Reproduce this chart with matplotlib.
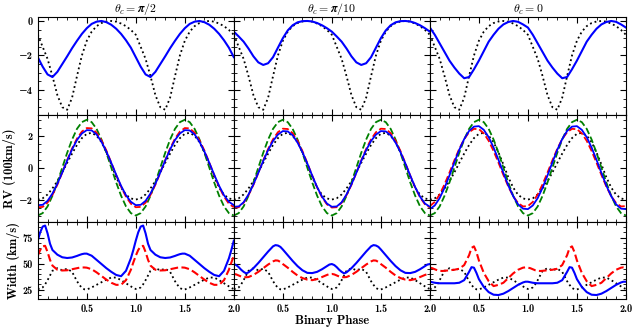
import numpy as np
import matplotlib.pyplot as plt

plt.rcParams['font.family'] = ['cmb10', 'DejaVu Serif']
plt.rcParams['mathtext.fontset'] = 'cm'
plt.rcParams['axes.unicode_minus'] = True
plt.rcParams['axes.formatter.use_mathtext'] = False

titles = [r'$\boldsymbol{\theta_c = \pi/2}$', r'$\boldsymbol{\theta_c = \pi/10}$',
          r'$\boldsymbol{\theta_c = 0}$']

# one orbital period (curves repeat every period)
phase = [0.0, 0.05, 0.1, 0.15, 0.2, 0.25, 0.3, 0.35, 0.4, 0.45, 0.5,
         0.55, 0.6, 0.65, 0.7, 0.75, 0.8, 0.85, 0.9, 0.95, 1.0]
phase_w = [0.0, 0.025, 0.05, 0.075, 0.1, 0.125, 0.15, 0.2, 0.25, 0.3, 0.35,
           0.4, 0.425, 0.45, 0.475, 0.5, 0.55, 0.6, 0.65, 0.7, 0.75, 0.8,
           0.85, 0.9, 0.95, 0.975, 1.0]

# top row: light curve
lc_obs = [-0.8, -1.5, -2.2, -3.2, -4.3, -5.0, -5.15, -4.45, -3.2, -2.0, -1.15,
          -0.62, -0.3, -0.12, -0.03, 0.0, -0.04, -0.15, -0.3, -0.52, -0.8]
lc_model = [
    [-2.1, -2.65, -3.1, -3.25, -2.95, -2.5, -2.05, -1.58, -1.15, -0.75, -0.42,
     -0.17, -0.04, 0.0, -0.07, -0.22, -0.45, -0.75, -1.12, -1.55, -2.1],
    [-0.62, -0.9, -1.2, -1.6, -2.05, -2.4, -2.55, -2.45, -2.1, -1.55, -1.0,
     -0.55, -0.25, -0.08, -0.01, 0.0, -0.03, -0.12, -0.25, -0.42, -0.62],
    [-0.38, -0.8, -1.3, -1.8, -2.3, -2.7, -3.05, -3.32, -3.25, -2.8, -2.3,
     -1.75, -1.2, -0.8, -0.45, -0.2, -0.06, 0.0, -0.05, -0.2, -0.38],
]

# middle row: radial velocity
rv_obs = [-2.0, -1.92, -1.68, -1.3, -0.85, -0.3, 0.3, 0.88, 1.42, 1.85, 2.12,
          2.18, 2.0, 1.6, 0.95, 0.2, -0.6, -1.25, -1.7, -1.93, -2.0]
rv_green = [-3.0, -2.85, -2.43, -1.76, -0.93, 0.0, 0.93, 1.76, 2.43, 2.85, 3.0,
            2.85, 2.43, 1.76, 0.93, 0.0, -0.93, -1.76, -2.43, -2.85, -3.0]
rv_red = [
    [-2.48, -2.46, -2.19, -1.71, -1.07, -0.31, 0.47, 1.2, 1.82, 2.26, 2.48,
     2.46, 2.19, 1.71, 1.07, 0.31, -0.47, -1.2, -1.82, -2.26, -2.48],
    [-2.5, -2.48, -2.2, -1.72, -1.08, -0.33, 0.45, 1.17, 1.78, 2.22, 2.44,
     2.42, 2.16, 1.68, 1.04, 0.28, -0.5, -1.24, -1.86, -2.3, -2.5],
    [-2.41, -2.15, -1.68, -1.04, -0.31, 0.46, 1.18, 1.79, 2.22, 2.43, 2.41,
     2.15, 1.68, 1.04, 0.31, -0.46, -1.18, -1.79, -2.22, -2.43, -2.41],
]
rv_blue = [
    [-2.35, -2.33, -2.08, -1.62, -1.01, -0.3, 0.44, 1.14, 1.73, 2.14, 2.35,
     2.33, 2.08, 1.62, 1.01, 0.3, -0.44, -1.14, -1.73, -2.14, -2.35],
    [-2.45, -2.43, -2.17, -1.68, -1.05, -0.32, 0.42, 1.1, 1.67, 2.07, 2.29,
     2.27, 2.03, 1.57, 0.97, 0.26, -0.5, -1.22, -1.82, -2.25, -2.45],
    [-2.6, -2.37, -1.91, -1.26, -0.49, 0.33, 1.12, 1.79, 2.3, 2.57, 2.6,
     2.37, 1.91, 1.26, 0.49, -0.33, -1.12, -1.79, -2.3, -2.57, -2.6],
]

# bottom row: line width
w_obs = [25.5, 25.8, 27, 30, 34, 38.5, 43, 45.5, 43.5, 45, 42, 33, 29.5, 26.5,
         25.2, 25, 27, 29.5, 32, 34.5, 36.5, 36.5, 34, 31, 28, 26.5, 25.5]
w_red = [
    [57.5, 63, 66.5, 67, 61, 53.5, 48, 44, 43.3, 43.5, 44.5, 45.5, 46, 46.2,
     46.2, 46, 44.5, 41.5, 38, 34.5, 31.5, 29.5, 29.5, 34, 44, 51, 57.5],
    [40, 39.5, 38.5, 37.5, 37, 36.8, 37, 39, 42, 45.5, 49, 52, 53, 52.8,
     51.5, 49.5, 46, 42, 38.5, 36, 34.5, 34, 35, 37, 39, 39.8, 40],
    [46, 45.5, 44.5, 43.5, 43, 42.8, 43, 43.5, 44, 45, 48.5, 58, 65, 66.5,
     61, 53, 41, 33, 28.3, 29.5, 31.5, 36, 40.5, 44, 46, 46.3, 46],
]
w_blue = [
    [72, 80, 85.5, 86.5, 79, 69, 63, 58.5, 56, 55.3, 55.8, 57.3, 58.2, 59,
     59.5, 59.5, 57.5, 53.5, 49.5, 45.5, 42, 39, 37.8, 43, 55, 63, 72],
    [49.5, 48.5, 46.5, 44, 42, 40.5, 41.5, 45.5, 50.5, 56, 61.5, 66.5, 67.7,
     67.3, 66, 63.5, 58, 52.5, 47.5, 43.5, 41, 40.8, 42, 44.5, 47.5, 49, 49.5],
    [32.5, 32, 31.5, 31.2, 31, 31, 31, 31, 31, 31.5, 34, 42, 46.5, 46,
     41, 35, 27.5, 22.5, 20, 19.7, 21, 23.5, 26.5, 29.5, 31.8, 32.5, 32.5],
]


def two_periods(x, y):
    x = np.array(x)
    return np.concatenate([x[:-1], x + 1]), np.array(y[:-1] + y)


fig, axes = plt.subplots(3, 3, figsize=(6.4, 3.27), sharex=True, sharey='row',
                         gridspec_kw={'height_ratios': [98, 107, 77]})
fig.subplots_adjust(left=0.059, right=0.978, top=0.948, bottom=0.086,
                    hspace=0, wspace=0)

for j in range(3):
    ax = axes[0, j]
    ax.plot(*two_periods(phase, lc_obs), color='k', ls=':', lw=1.3)
    ax.plot(*two_periods(phase, lc_model[j]), color='#0000ff', lw=1.5)
    ax.set_title(titles[j], fontsize=8.5, pad=2)

    ax = axes[1, j]
    ax.plot(*two_periods(phase, rv_obs), color='k', ls=':', lw=1.3)
    ax.plot(*two_periods(phase, rv_green), color='#008000', ls='--', lw=1.3)
    ax.plot(*two_periods(phase, rv_red[j]), color='#ff0000', ls='--', lw=1.3)
    ax.plot(*two_periods(phase, rv_blue[j]), color='#0000ff', lw=1.3)

    ax = axes[2, j]
    ax.plot(*two_periods(phase_w, w_obs), color='k', ls=':', lw=1.3)
    ax.plot(*two_periods(phase_w, w_red[j]), color='#ff0000', ls='--', lw=1.5)
    ax.plot(*two_periods(phase_w, w_blue[j]), color='#0000ff', lw=1.5)

for ax in axes.flat:
    ax.set_xlim(0, 2)
    ax.set_xticks([0.5, 1.0, 1.5, 2.0])
    ax.set_xticks(np.arange(0, 2.01, 0.1), minor=True)
    ax.tick_params(which='both', direction='in', top=True, right=True,
                   labelsize=7.5)
    ax.tick_params(which='major', length=4)
    ax.tick_params(which='minor', length=2)

for j in range(3):
    axes[2, j].set_xticklabels(['0.5', '1.0', '1.5', '2.0'])

axes[0, 0].set_ylim(-5.45, 0.23)
axes[0, 0].set_yticks([-4, -2, 0])
axes[0, 0].set_yticks(np.arange(-5.0, 0.1, 0.5), minor=True)
axes[1, 0].set_ylim(-3.4, 3.3)
axes[1, 0].set_yticks([-2, 0, 2])
axes[1, 0].set_yticks(np.arange(-3.0, 3.1, 0.5), minor=True)
axes[2, 0].set_ylim(16, 90)
axes[2, 0].set_yticks([25, 50, 75])
axes[2, 0].set_yticks(np.arange(20, 90, 5), minor=True)

axes[1, 0].set_ylabel('RV (100km/s)', fontsize=9, labelpad=2)
axes[2, 0].set_ylabel('Width (km/s)', fontsize=9, labelpad=2)
axes[2, 1].set_xlabel('Binary Phase', fontsize=9, labelpad=1)

plt.savefig('out.png', dpi=100)
